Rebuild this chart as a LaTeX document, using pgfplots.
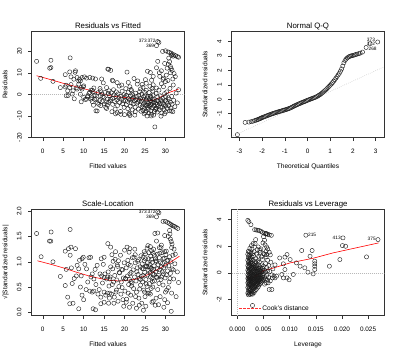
\documentclass[border=0pt]{standalone}
\usepackage{pgfplots}
\pgfplotsset{compat=1.18}
\usepackage{fontspec}
\setmainfont{Liberation Sans}
\tikzset{rlab/.style={font=\fontsize{4.8}{5.2}\selectfont, inner sep=0.5pt}}
\pgfplotsset{
  rp/.style={
    scale only axis, width=152.6pt, height=106.7pt,
    axis line style={black!80, line width=0.45pt},
    tick pos=left, tick align=outside, major tick length=3.5pt,
    every tick/.style={black!80, line width=0.45pt},
    tick label style={font=\fontsize{6.4}{7}\selectfont, inner sep=0pt},
    xticklabel style={anchor=base},
    yticklabel style={rotate=90, anchor=base},
    xticklabel shift=12pt, yticklabel shift=6.7pt,
    label style={font=\fontsize{6.6}{7.5}\selectfont},
    xlabel style={at={(axis description cs:0.5,-0.286)}, anchor=base},
    ylabel style={at={(axis description cs:-0.16,0.5)}, anchor=base},
    every axis title shift=0pt,
    title style={at={(axis description cs:0.5,1.025)}, anchor=base, font=\fontsize{7.8}{9}\selectfont},
    scaled x ticks=false, scaled y ticks=false,
  },
  rpts/.style={only marks, mark=o, mark size=2.1pt, mark options={line width=0.4pt, draw=black!90}},
  rloess/.style={no marks, red, line width=0.6pt},
  rref/.style={no marks, gray!55, dash pattern=on 0.6pt off 1.4pt, line width=0.45pt},
}
\begin{document}
\begin{tikzpicture}
\useasboundingbox (0,0) rectangle (400pt,356pt);

% ---------------- Residuals vs Fitted
\begin{axis}[rp, at={(31.7pt,218.3pt)}, anchor=south west,
  xmin=-2.7, xmax=34.6, ymin=-20.1, ymax=29.5,
  xtick={0,5,10,15,20,25,30}, xticklabels={0,5,10,15,20,25,30},
  ytick={-20,-10,0,10,20}, yticklabels={-20,-10,0,10,20},
  title={Residuals vs Fitted}, xlabel={Fitted values}, ylabel={Residuals}]
\addplot[rpts] coordinates {
(-1.5,15.4) (-0.5,7.5) (1.7,12.2) (2.0,12.5) (2.0,15.9) (2.5,6.1) (4.3,3.2) (5.5,9.2) (5.5,3.5) (5.7,4.3)
(5.75,-0.6) (6.1,1.7) (6.2,-0.5) (6.6,3.2) (6.6,10.5) (6.7,17.0) (6.9,8.2) (6.9,4.6) (7.2,0.2) (7.4,1.7)
(7.6,7.1) (7.7,-2.0) (7.9,10.3) (8.0,11.0) (8.2,3.1) (8.4,7.9) (8.4,2.5) (8.8,4.8) (8.8,6.2) (9.0,7.1)
(9.2,6.3) (9.2,0.1) (9.4,3.2) (9.4,-3.4) (9.6,7.9) (9.6,2.5) (9.9,3.5) (10.0,4.0) (10.0,-1.4) (10.2,8.2)
(10.4,-2.3) (10.7,7.6) (10.7,-2.2) (11.0,-0.6) (11.0,-1.1) (11.5,7.9) (11.5,1.0) (11.8,-2.2) (11.8,2.0) (12.1,2.0)
(12.1,-3.3) (12.2,7.6) (12.3,1.2) (12.5,3.0) (12.5,-0.6) (12.7,-2.3) (12.9,7.2) (13.0,-7.6) (13.2,-2.2) (13.3,-7.7)
(13.7,-4.6) (14.1,1.7) (14.1,-0.5) (14.4,7.2) (14.5,0.2) (14.5,-3.3) (14.8,5.4) (15.0,-1.4) (15.4,-6.0) (15.6,3.2)
(15.6,-6.5) (15.8,-2.2) (15.9,11.8) (16.1,11.7) (16.1,-3.7) (16.2,1.7) (16.6,11.2) (16.6,-2.2) (17.0,6.6) (11.3,0.5)
(12.0,-1.5) (12.8,-0.3) (13.5,0.8) (13.9,-2.8) (14.7,-1.0) (15.2,1.0) (15.5,-3.5) (12.4,-5.0) (13.4,-4.0) (14.2,-5.2)
(15.0,-4.4) (14.0,2.8) (15.8,-5.0) (16.0,0.5)
(16.3,-0.5) (16.5,-3.0) (16.8,0.8) (17.0,-1.8) (17.1,-4.6) (17.3,2.2) (17.4,-0.2) (17.6,-3.3) (17.7,-6.8) (17.9,-1.0)
(18.0,1.2) (18.1,-2.5) (18.3,-5.1) (18.4,0.3) (18.6,-1.6) (18.7,3.9) (18.8,-3.8) (19.0,-7.9) (19.1,-0.8) (19.2,-2.2)
(19.4,1.5) (19.5,-4.3) (19.7,-2.9) (19.8,-0.1) (19.9,-6.0) (20.0,-9.4) (17.2,6.3) (18.2,5.5) (19.3,4.4) (16.9,-8.0)
(17.8,-9.0) (20.2,-2.8) (18.2,-8.5) (19.1,-9.2)
(20.1,-1.1) (20.3,2.7) (20.4,-4.8) (20.5,-0.4) (20.6,10.4) (20.7,-3.2) (20.8,-6.6) (20.9,0.9) (21.0,-1.9) (21.1,-8.8)
(21.2,-2.6) (21.3,3.6) (21.4,-5.4) (21.5,-0.7) (21.6,-3.9) (21.7,1.7) (21.8,-2.1) (21.9,-7.2) (22.0,-0.2) (22.1,-4.4)
(22.2,-1.4) (22.3,7.4) (22.4,-3.0) (22.5,-9.6) (22.6,-5.9) (22.7,0.6) (22.8,-2.4) (22.9,-1.0) (23.0,-4.0) (23.1,4.8)
(23.2,6.3) (23.3,-3.5) (23.4,-6.8) (23.5,-0.5) (23.6,-2.8) (23.7,1.3) (23.8,-5.0) (23.9,-1.8) (24.0,-7.8) (21.3,-9.8)
(22.6,-8.0) (20.9,5.6) (21.6,2.3) (23.9,2.6) (21.2,-9.2)
(24.1,-3.1) (24.2,0.2) (24.3,-5.7) (24.4,-2.2) (24.5,3.3) (24.6,-4.5) (24.7,-1.2) (24.8,-6.4) (24.9,-3.8) (25.0,-0.6)
(25.1,-8.4) (25.2,-2.6) (25.3,1.9) (25.4,-5.1) (25.5,-10.0) (25.6,-3.4) (25.7,-0.9) (25.8,-6.9) (25.9,-4.2) (26.0,0.9)
(26.1,-2.0) (26.2,-5.6) (26.3,-3.0) (26.4,-7.6) (26.5,-1.4) (26.6,-4.7) (26.7,2.8) (26.8,-6.1) (26.9,-3.6) (27.0,-0.3)
(27.1,-9.6) (27.2,-5.3) (27.3,-2.4) (27.4,-15.1) (27.5,-7.0) (27.6,-4.0) (27.7,0.5) (27.8,-6.3) (27.9,-2.9) (28.0,-8.2)
(24.5,-7.4) (25.0,-5.0) (25.6,-6.0) (26.0,-5.0) (26.4,-4.6) (26.8,-2.3) (27.2,-3.5) (27.6,-6.4) (28.0,-4.6) (24.3,4.7)
(25.3,5.2) (26.2,3.8) (27.0,4.5) (27.8,3.0) (25.9,-8.7) (26.6,-9.2) (24.8,-9.0) (27.3,-7.9) (25.1,6.9) (26.9,1.6)
(24.9,1.0) (25.5,-1.6) (26.3,-0.8) (25.2,-7.7) (26.5,-10.0) (25.6,10.8) (26.3,10.2) (27.0,8.4) (26.6,6.6)
(28.1,-1.2) (28.2,-5.5) (28.3,-3.3) (28.4,2.0) (28.5,-7.2) (28.6,-4.4) (28.7,-0.6) (28.8,-6.0) (28.9,-2.6) (29.0,5.0)
(29.1,-8.6) (29.2,-3.9) (29.3,-5.9) (29.4,-1.8) (29.5,3.6) (29.6,-4.8) (29.7,-7.1) (29.8,0.4) (29.9,-2.9) (30.0,-5.4)
(30.1,-8.1) (30.2,-3.4) (30.3,1.2) (30.4,-6.5) (30.5,-4.1) (30.6,6.5) (30.7,-1.5) (30.8,-5.2) (30.9,-2.2) (31.0,-7.6)
(31.1,2.8) (31.2,-3.6) (31.3,-6.3) (31.5,-0.9) (31.6,-4.5) (31.8,-8.0) (31.9,4.4) (32.0,-2.7) (32.3,-5.7) (32.6,0.6)
(32.9,-3.9) (33.2,2.2) (28.6,8.4) (29.4,7.0) (30.2,9.0) (29.0,-3.0) (30.0,-1.0) (31.4,-7.7) (29.8,-9.0) (28.9,-10.1)
(28.1,15.4) (27.8,12.4) (29.0,11.0) (29.8,14.4) (28.5,10.1) (29.5,7.6) (30.0,6.0)
(29.3,20.0) (30.0,20.3) (30.6,19.8) (31.0,19.5) (31.4,19.2) (31.7,18.6) (32.1,18.4) (32.5,18.0) (32.9,17.6) (33.2,17.3)
(31.5,18.2) (31.9,17.8) (30.8,16.9) (31.0,15.2) (30.7,14.0) (31.2,13.0) (31.4,12.0) (31.6,11.2) (31.2,10.1) (32.1,9.7)
(32.4,8.3) (31.8,7.2) (30.4,12.2)
(28.1,24.6) (28.4,24.2) (27.8,22.7)
};
\addplot[rloess] coordinates {(-1.5,8.7) (1,7.4) (3,6.3) (5,5.2) (7,4.2) (9,3.2) (11,2.2) (13,1.0) (15,0.0) (17,-0.8) (19,-1.2) (21,-1.6) (23,-2.1) (25,-2.6) (26.8,-2.85) (28.5,-1.5) (30.6,0.7) (33.2,2.5)};
\addplot[rref] coordinates {(-2.7,0) (34.6,0)};
\node[rlab, anchor=east] at (axis cs:27.75,24.7) {372};
\node[rlab, anchor=east] at (axis cs:25.6,24.7) {373};
\node[rlab, anchor=east] at (axis cs:27.4,22.5) {369};
\end{axis}

% ---------------- Normal Q-Q
\begin{axis}[rp, at={(231.7pt,218.3pt)}, anchor=south west,
  xmin=-3.34, xmax=3.38, ymin=-2.66, ymax=4.72,
  xtick={-3,-2,-1,0,1,2,3}, xticklabels={-3,-2,-1,0,1,2,3},
  ytick={-2,-1,0,1,2,3,4}, yticklabels={-2,-1,0,1,2,3,4},
  title={Normal Q-Q}, xlabel={Theoretical Quantiles}, ylabel={Standardized residuals}]
\addplot[rpts] coordinates {
(-3.09,-2.45) (-2.75,-1.60) (-2.58,-1.58) (-2.48,-1.55) (-2.40,-1.52) (-2.33,-1.48) (-2.27,-1.45) (-2.22,-1.42) (-2.17,-1.39) (-2.12,-1.36)
(-2.08,-1.33) (-2.04,-1.30) (-2.00,-1.27) (-1.95,-1.24) (-1.90,-1.21) (-1.85,-1.18) (-1.80,-1.15) (-1.75,-1.12) (-1.70,-1.09) (-1.65,-1.06)
(-1.60,-1.03) (-1.55,-1.00) (-1.50,-0.98) (-1.45,-0.95) (-1.40,-0.93) (-1.35,-0.90) (-1.30,-0.88) (-1.25,-0.85) (-1.20,-0.83) (-1.15,-0.81)
(-1.10,-0.78) (-1.05,-0.76) (-1.00,-0.74) (-0.95,-0.71) (-0.90,-0.69) (-0.85,-0.66) (-0.80,-0.63) (-0.75,-0.60) (-0.70,-0.56) (-0.65,-0.52)
(-0.60,-0.48) (-0.55,-0.44) (-0.50,-0.40) (-0.45,-0.37) (-0.40,-0.33) (-0.35,-0.30) (-0.30,-0.27) (-0.25,-0.23) (-0.20,-0.20) (-0.15,-0.17)
(-0.10,-0.14) (-0.05,-0.10) (0.00,-0.07) (0.05,-0.04) (0.10,-0.01) (0.15,0.02) (0.20,0.05) (0.25,0.08) (0.30,0.11) (0.35,0.14)
(0.40,0.18) (0.45,0.22) (0.50,0.27) (0.55,0.32) (0.60,0.38) (0.65,0.44) (0.70,0.51) (0.75,0.58) (0.80,0.65) (0.85,0.73)
(0.90,0.81) (0.95,0.89) (1.00,0.97) (1.05,1.06) (1.10,1.15) (1.15,1.25) (1.20,1.35) (1.25,1.46) (1.30,1.57) (1.35,1.68)
(1.40,1.80) (1.45,1.94) (1.50,2.10) (1.55,2.30) (1.60,2.52) (1.65,2.68) (1.70,2.78) (1.75,2.86) (1.80,2.92) (1.85,2.96)
(1.90,2.99) (1.95,3.01) (2.00,3.03) (2.06,3.06) (2.12,3.09) (2.18,3.12) (2.25,3.15) (2.32,3.19) (2.42,3.26)
(2.58,3.58) (2.75,3.84) (3.09,3.96)
};
\addplot[rref] coordinates {(-3.34,-2.58) (3.38,2.25)};
\node[rlab, anchor=west] at (axis cs:2.66,3.50) {268};
\node[rlab, anchor=east] at (axis cs:3.0,3.80) {372};
\node[rlab, anchor=east] at (axis cs:3.0,4.10) {373};
\end{axis}

% ---------------- Scale-Location
\begin{axis}[rp, at={(31.7pt,40.3pt)}, anchor=south west,
  xmin=-2.7, xmax=34.6, ymin=-0.067, ymax=2.045,
  xtick={0,5,10,15,20,25,30}, xticklabels={0,5,10,15,20,25,30},
  ytick={0,0.5,1,1.5,2}, yticklabels={0.0,0.5,1.0,1.5,2.0},
  title={Scale-Location}, xlabel={Fitted values}, ylabel={√|Standardized residuals|}]
\addplot[rpts] coordinates {
(-1.5,1.56) (-0.4,1.10) (2.05,1.59) (1.65,1.41) (1.97,1.41) (2.5,1.00) (4.3,0.71) (5.5,1.21) (5.75,0.85) (5.5,0.53)
(6.1,0.30) (6.6,0.17) (6.7,1.64) (6.9,1.29) (6.3,1.26) (8.0,1.26) (6.7,1.13) (7.2,0.57) (7.4,0.18) (7.7,0.67)
(8.4,0.93) (8.8,0.86) (9.0,1.03) (9.6,1.06) (9.9,1.09) (9.2,0.50) (9.6,0.34) (10.0,0.25) (8.8,0.07) (10.7,0.86)
(11.3,1.08) (11.7,1.09) (12.1,0.76) (11.8,0.70) (12.5,0.66) (12.1,0.40) (12.5,0.42) (12.3,0.07) (12.9,0.05) (13.3,0.93)
(14.3,1.06) (15.0,1.09) (14.8,0.95) (14.0,0.76) (14.4,0.72) (15.0,0.69) (15.2,0.76) (15.6,0.66) (15.9,0.70) (16.4,0.66)
(13.5,0.36) (14.2,0.30) (15.0,0.40) (15.4,0.34) (15.8,0.38) (16.4,0.38) (14.2,0.17) (15.0,0.20) (16.1,0.18) (10.3,0.95)
(11.0,0.60) (12.8,0.85) (13.0,0.55) (13.8,0.45) (14.6,0.58) (15.9,1.36) (16.6,1.29) (16.0,0.80) (16.2,0.52) (11.5,0.42)
(8.2,0.72) (7.0,0.88) (9.4,0.72) (10.6,0.45)
(16.3,0.28) (16.5,0.70) (16.8,0.36) (17.0,0.55) (17.1,0.86) (17.3,0.60) (17.4,0.18) (17.6,0.73) (17.7,1.05) (17.9,0.40)
(18.0,0.44) (18.1,0.64) (18.3,0.91) (18.4,0.22) (18.6,0.51) (18.7,0.79) (18.8,0.78) (19.0,1.13) (19.1,0.36) (19.2,0.60)
(19.4,0.49) (19.5,0.84) (19.7,0.68) (19.8,0.12) (19.9,0.98) (20.0,1.23) (17.2,1.01) (18.2,0.94) (19.3,0.85) (16.9,1.14)
(17.8,1.20) (20.2,0.67) (16.6,0.90) (17.5,0.30) (18.5,1.02) (19.6,0.25)
(20.1,0.42) (20.3,0.66) (20.4,0.88) (20.5,0.26) (20.6,1.29) (20.7,0.72) (20.8,1.03) (20.9,0.38) (21.0,0.55) (21.1,1.19)
(21.2,0.65) (21.3,0.76) (21.4,0.93) (21.5,0.34) (21.6,0.79) (21.7,0.52) (21.8,0.58) (21.9,1.08) (22.0,0.18) (22.1,0.84)
(22.2,0.47) (22.3,1.09) (22.4,0.70) (22.5,1.25) (22.6,0.98) (22.7,0.31) (22.8,0.62) (22.9,0.40) (23.0,0.80) (23.1,0.88)
(23.2,1.01) (23.3,0.75) (23.4,1.04) (23.5,0.28) (23.6,0.67) (23.7,0.46) (23.8,0.90) (23.9,0.54) (24.0,1.12) (21.3,1.26)
(22.6,1.14) (20.9,0.95) (21.6,0.61) (23.9,0.65) (21.2,0.10) (22.9,0.08) (23.6,0.14) (20.4,0.20)
(24.1,0.71) (24.2,0.18) (24.3,0.96) (24.4,0.60) (24.5,0.73) (24.6,0.86) (24.7,0.44) (24.8,1.02) (24.9,0.79) (25.0,0.31)
(25.1,1.16) (25.2,0.65) (25.3,0.56) (25.4,0.91) (25.5,1.27) (25.6,0.74) (25.7,0.38) (25.8,1.06) (25.9,0.83) (26.0,0.38)
(26.1,0.57) (26.2,0.95) (26.3,0.70) (26.4,1.11) (26.5,0.47) (26.6,0.87) (26.7,0.67) (26.8,0.99) (26.9,0.76) (27.0,0.22)
(27.1,1.25) (27.2,0.92) (27.3,0.62) (27.4,1.56) (27.5,1.06) (27.6,0.80) (27.7,0.28) (27.8,1.01) (27.9,0.69) (28.0,1.15)
(24.5,1.09) (25.0,0.90) (25.6,0.98) (26.0,0.90) (26.4,0.86) (26.8,0.61) (27.2,0.75) (27.6,1.02) (28.0,0.86) (24.3,0.87)
(25.3,0.92) (26.2,0.78) (27.0,0.85) (27.8,0.70) (25.9,1.18) (26.6,1.22) (24.8,1.20) (27.3,1.13) (25.1,1.06) (26.9,0.50)
(24.9,0.40) (25.5,0.51) (26.3,0.36) (25.2,0.12) (26.7,0.20) (27.5,0.14) (24.6,0.04) (26.3,1.30) (25.7,1.32) (27.0,1.17) (26.6,1.05)
(28.1,0.45) (28.2,0.94) (28.3,0.73) (28.4,0.57) (28.5,1.08) (28.6,0.84) (28.7,0.31) (28.8,0.98) (28.9,0.65) (29.0,0.90)
(29.1,1.18) (29.2,0.80) (29.3,0.97) (29.4,0.54) (29.5,0.76) (29.6,0.88) (29.7,1.07) (29.8,0.25) (29.9,0.68) (30.0,0.93)
(30.1,1.14) (30.2,0.74) (30.3,0.44) (30.4,1.02) (30.5,0.82) (30.6,1.03) (30.7,0.49) (30.8,0.92) (30.9,0.60) (31.0,1.10)
(31.1,0.67) (31.2,0.77) (31.3,1.00) (31.4,0.02) (31.5,0.38) (31.6,0.86) (31.8,1.13) (31.9,0.84) (32.0,0.66) (32.3,0.96)
(32.6,0.31) (32.9,0.80) (33.2,0.59) (28.6,1.17) (29.4,1.06) (30.2,1.21) (29.0,0.70) (30.0,0.40) (29.8,1.20) (28.9,1.28)
(28.3,0.15) (29.6,0.10) (30.5,0.19)
(28.1,1.57) (27.8,1.41) (29.0,1.33) (29.8,1.52) (28.5,1.28)
(29.4,1.80) (30.0,1.80) (30.5,1.78) (30.9,1.76) (31.3,1.74) (31.6,1.72) (31.9,1.71) (32.2,1.70) (32.6,1.68) (33.0,1.66)
(31.0,1.62) (31.1,1.55) (30.7,1.50) (31.2,1.45) (31.4,1.40) (31.6,1.35) (31.5,1.28) (32.1,1.25) (32.4,1.15)
(28.1,1.99) (28.4,1.97) (27.8,1.89)
};
\addplot[rloess] coordinates {(-1.3,1.02) (2,0.95) (5,0.88) (8,0.80) (11.7,0.71) (14,0.67) (16.6,0.63) (19,0.62) (22.4,0.65) (25,0.72) (27,0.80) (29,0.89) (31,0.98) (33.4,1.11)};
\node[rlab, anchor=east] at (axis cs:27.75,1.99) {372};
\node[rlab, anchor=east] at (axis cs:25.6,1.99) {373};
\node[rlab, anchor=east] at (axis cs:27.4,1.895) {369};
\end{axis}

% ---------------- Residuals vs Leverage
\begin{axis}[rp, at={(231.7pt,40.3pt)}, anchor=south west,
  xmin=-0.00108, xmax=0.0281, ymin=-3.22, ymax=4.8,
  xtick={0,0.005,0.01,0.015,0.02,0.025}, xticklabels={0.000,0.005,0.010,0.015,0.020,0.025},
  ytick={-2,0,2,4}, yticklabels={-2,0,2,4},
  title={Residuals vs Leverage}, xlabel={Leverage}, ylabel={Standardized residuals},
  legend style={at={(axis description cs:0.045,0.028)}, anchor=south west, draw=none, fill=none,
    font=\fontsize{6.6}{7.5}\selectfont, inner sep=0pt, nodes={inner sep=1pt}},
  legend image code/.code={\draw[#1] (0pt,0pt) -- (11pt,0pt); \path (0pt,0pt) -- (22pt,0pt);}]
\addlegendimage{red!80, dash pattern=on 2.5pt off 1.5pt, line width=0.6pt}
\addlegendentry{Cook's distance}
\addplot[rpts] coordinates {
(0.0020,-1.52) (0.0020,-1.10) (0.0020,-0.75) (0.0020,-0.42) (0.0020,-0.15) (0.0020,0.20) (0.0020,0.55) (0.0020,0.95) (0.0020,1.40)
(0.0021,-1.65) (0.0021,-1.28) (0.0021,-0.90) (0.0021,-0.60) (0.0021,-0.30) (0.0021,0.05) (0.0021,0.38) (0.0021,0.75) (0.0021,1.15) (0.0021,1.62)
(0.0022,-1.45) (0.0022,-1.02) (0.0022,-0.68) (0.0022,-0.48) (0.0022,-0.22) (0.0022,0.12) (0.0022,0.46) (0.0022,0.85) (0.0022,1.30)
(0.0023,-1.58) (0.0023,-1.18) (0.0023,-0.82) (0.0023,-0.55) (0.0023,-0.35) (0.0023,-0.05) (0.0023,0.28) (0.0023,0.65) (0.0023,1.05) (0.0023,1.55)
(0.0024,-1.35) (0.0024,-0.95) (0.0024,-0.62) (0.0024,-0.40) (0.0024,-0.18) (0.0024,0.15) (0.0024,0.50) (0.0024,0.92) (0.0024,1.35) (0.0024,1.85)
(0.0025,-1.62) (0.0025,-1.25) (0.0025,-0.88) (0.0025,-0.52) (0.0025,-0.28) (0.0025,0.02) (0.0025,0.35) (0.0025,0.72) (0.0025,1.12)
(0.0026,-1.42) (0.0026,-1.05) (0.0026,-0.70) (0.0026,-0.45) (0.0026,-0.10) (0.0026,0.25) (0.0026,0.60) (0.0026,1.00) (0.0026,1.48)
(0.0027,-1.55) (0.0027,-1.15) (0.0027,-0.78) (0.0027,-0.38) (0.0027,-0.02) (0.0027,0.42) (0.0027,0.82) (0.0027,2.05)
(0.0028,-1.30) (0.0028,-0.92) (0.0028,-0.58) (0.0028,-0.25) (0.0028,0.10) (0.0028,0.52) (0.0028,1.20) (0.0028,1.80)
(0.0029,-1.60) (0.0029,-1.08) (0.0029,-0.72) (0.0029,-0.40) (0.0029,-0.12) (0.0029,0.30) (0.0029,0.70) (0.0029,1.45)
(0.0030,-1.38) (0.0030,-0.98) (0.0030,-0.62) (0.0030,-0.30) (0.0030,0.05) (0.0030,0.45) (0.0030,0.95) (0.0030,2.20)
(0.0031,-1.20) (0.0031,-0.82) (0.0031,-0.50) (0.0031,-0.20) (0.0031,0.18) (0.0031,0.62) (0.0031,1.30)
(0.0032,-1.48) (0.0032,-1.00) (0.0032,-0.65) (0.0032,-0.32) (0.0032,0.00) (0.0032,0.40) (0.0032,1.60)
(0.0033,-1.10) (0.0033,-0.75) (0.0033,-0.45) (0.0033,-0.10) (0.0033,0.28) (0.0033,0.85)
(0.0034,-1.32) (0.0034,-0.88) (0.0034,-0.55) (0.0034,-0.22) (0.0034,0.15) (0.0034,0.55) (0.0034,2.20)
(0.0035,-1.02) (0.0035,-0.68) (0.0035,-0.35) (0.0035,0.02) (0.0035,0.40) (0.0035,1.05) (0.0035,2.50)
(0.0036,-1.25) (0.0036,-0.80) (0.0036,-0.48) (0.0036,-0.12) (0.0036,0.30) (0.0036,0.75)
(0.0037,-0.95) (0.0037,-0.58) (0.0037,-0.25) (0.0037,0.12) (0.0037,0.55) (0.0037,1.40)
(0.0038,-1.15) (0.0038,-0.70) (0.0038,-0.38) (0.0038,0.00) (0.0038,0.38) (0.0038,1.75)
(0.0039,-0.85) (0.0039,-0.50) (0.0039,-0.15) (0.0039,0.22) (0.0039,0.90)
(0.0040,-1.05) (0.0040,-0.62) (0.0040,-0.28) (0.0040,0.10) (0.0040,0.58) (0.0040,1.95)
(0.0041,-0.75) (0.0041,-0.40) (0.0041,-0.05) (0.0041,0.35) (0.0041,1.25)
(0.0042,-0.90) (0.0042,-0.52) (0.0042,-0.18) (0.0042,0.20) (0.0042,0.80)
(0.0043,-0.65) (0.0043,-0.30) (0.0043,0.08) (0.0043,1.70)
(0.0044,-0.80) (0.0044,-0.42) (0.0044,0.00) (0.0044,0.45) (0.0044,1.55)
(0.0045,-0.55) (0.0045,-0.15) (0.0045,0.25) (0.0045,1.80)
(0.0046,-0.70) (0.0046,-0.32) (0.0046,0.10) (0.0046,1.20)
(0.0047,-0.45) (0.0047,0.05) (0.0047,0.60)
(0.0048,-0.60) (0.0048,-0.20) (0.0048,0.35) (0.0048,1.00)
(0.0049,-0.38) (0.0049,0.15)
(0.0050,-0.50) (0.0050,-0.05) (0.0050,0.50) (0.0050,1.45)
(0.0052,-0.30) (0.0052,0.20) (0.0052,1.38) (0.0052,-0.85)
(0.0054,-0.45) (0.0054,0.05) (0.0054,0.70)
(0.0055,-0.75) (0.0055,1.20) (0.0056,-0.20) (0.0056,0.40)
(0.0058,-0.55) (0.0058,0.15) (0.0058,0.95) (0.0060,-0.35) (0.0060,0.55)
(0.0061,-1.25) (0.0062,0.10) (0.0063,-0.60) (0.0064,0.80) (0.0066,-0.15) (0.0067,-0.38) (0.0068,0.30) (0.0070,-0.25) (0.0072,0.60)
(0.0020,3.95) (0.0022,3.85) (0.0026,3.62) (0.0033,3.25) (0.0036,3.22) (0.0039,3.20) (0.0042,3.18) (0.0045,3.12) (0.0048,3.05)
(0.0051,2.98) (0.0054,2.95) (0.0056,2.93) (0.0058,2.90) (0.0061,2.86) (0.0065,2.82) (0.0055,2.96)
(0.0050,2.72) (0.0052,2.45) (0.0049,2.25) (0.0053,2.10) (0.0056,1.95) (0.0058,1.80) (0.0055,1.62) (0.0061,1.55) (0.0063,1.35)
(0.0081,1.12) (0.0091,1.18) (0.0095,1.38) (0.0101,1.00) (0.0088,0.68) (0.0091,0.25) (0.0085,-0.12) (0.0095,-0.38)
(0.0099,-0.52) (0.0088,-0.38) (0.0107,-0.12) (0.0113,0.75) (0.0120,0.50) (0.0123,1.68) (0.0129,0.38) (0.0135,0.05)
(0.0139,1.25) (0.0143,1.68) (0.0148,0.25) (0.0145,-0.08) (0.0148,0.88) (0.0148,0.68) (0.0148,0.50) (0.0131,2.83)
(0.0176,0.50) (0.0196,1.00) (0.0202,2.63) (0.0201,2.05) (0.0207,2.00) (0.0247,1.20) (0.0269,2.50)
(0.0075,-0.25) (0.0072,-0.38) (0.0066,-1.25) (0.0059,-0.75) (0.0029,-2.45) (0.0056,1.38)
};
\addplot[rloess] coordinates {(0.0018,-0.375) (0.0030,-0.375) (0.0040,-0.12) (0.0050,0.17) (0.0066,0.33) (0.0101,0.75) (0.0145,1.1) (0.0183,1.5) (0.0270,2.25)};
\addplot[rref] coordinates {(-0.00108,0) (0.0281,0)};
\addplot[rref] coordinates {(0,-3.22) (0,4.8)};
\node[rlab, anchor=west] at (axis cs:0.0134,2.85) {215};
\node[rlab, anchor=east] at (axis cs:0.0199,2.65) {413};
\node[rlab, anchor=east] at (axis cs:0.0266,2.52) {375};
\end{axis}
\end{tikzpicture}
\end{document}
